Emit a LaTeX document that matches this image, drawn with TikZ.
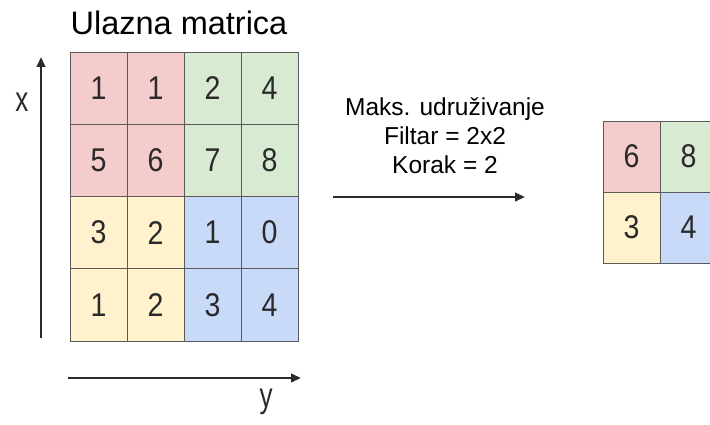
\documentclass[tikz,border=0pt]{standalone}
\usepackage{fontspec}
\setmainfont{Liberation Sans}
\usetikzlibrary{arrows.meta}
\definecolor{cred}{HTML}{F4CCCC}
\definecolor{cgreen}{HTML}{D9EAD3}
\definecolor{cyellow}{HTML}{FFF2CC}
\definecolor{cblue}{HTML}{C9DAF8}
\definecolor{gridc}{HTML}{5A5A5A}
\definecolor{txtc}{HTML}{2A2A2A}
\newcommand{\dg}[1]{\scalebox{0.92}[1.06]{#1}}
\begin{document}
\begin{tikzpicture}[x=1pt,y=-1pt,
  cell/.style={draw=gridc, line width=0.8pt, minimum width=57pt, minimum height=72.25pt, inner sep=0pt, font=\fontsize{31}{31}\selectfont, text=txtc},
  ocell/.style={cell, minimum height=71pt},
  axis/.style={line width=2.3pt, draw=txtc, -{Triangle[length=10pt,width=8.5pt]}},
  lbl/.style={text=txtc, inner sep=0pt}]
\useasboundingbox (0,0) rectangle (710,425);
\clip (0,0) rectangle (710,425);
\fill[white] (0,0) rectangle (710,425);
% input matrix
\node[cell, fill=cred]    (a11) at (98.5,88.1)  {\dg{1}};
\node[cell, fill=cred]    (a12) at (155.5,88.1) {\dg{1}};
\node[cell, fill=cgreen]  (a13) at (212.5,88.1) {\dg{2}};
\node[cell, fill=cgreen]  (a14) at (269.5,88.1) {\dg{4}};
\node[cell, fill=cred]    (a21) at (98.5,160.4)  {\dg{5}};
\node[cell, fill=cred]    (a22) at (155.5,160.4) {\dg{6}};
\node[cell, fill=cgreen]  (a23) at (212.5,160.4) {\dg{7}};
\node[cell, fill=cgreen]  (a24) at (269.5,160.4) {\dg{8}};
\node[cell, fill=cyellow] (a31) at (98.5,232.6)  {\dg{3}};
\node[cell, fill=cyellow] (a32) at (155.5,232.6) {\dg{2}};
\node[cell, fill=cblue]   (a33) at (212.5,232.6) {\dg{1}};
\node[cell, fill=cblue]   (a34) at (269.5,232.6) {\dg{0}};
\node[cell, fill=cyellow] (a41) at (98.5,304.9)  {\dg{1}};
\node[cell, fill=cyellow] (a42) at (155.5,304.9) {\dg{2}};
\node[cell, fill=cblue]   (a43) at (212.5,304.9) {\dg{3}};
\node[cell, fill=cblue]   (a44) at (269.5,304.9) {\dg{4}};
% output matrix
\node[ocell, fill=cred]    (b11) at (631.5,156.5) {\dg{6}};
\node[ocell, fill=cgreen]  (b12) at (688.5,156.5) {\dg{8}};
\node[ocell, fill=cyellow] (b21) at (631.5,227.5) {\dg{3}};
\node[ocell, fill=cblue]   (b22) at (688.5,227.5) {\dg{4}};
% title and labels
\node[lbl, font=\fontsize{32.5}{32.5}\selectfont, text=black] (title) at (179,23) {Ulazna matrica};
\node[lbl, font=\fontsize{26}{26}\selectfont] (xl) at (22,102) {\scalebox{1}[1.35]{x}};
\node[lbl, font=\fontsize{26}{26}\selectfont] (yl) at (266,402) {\scalebox{1}[1.35]{y}};
\node[lbl, align=center, font=\fontsize{24.5}{29}\selectfont, text=black] (op) at (445,136) {Maks. udruživanje\\Filtar = 2x2\\Korak = 2};
% arrows
\coordinate (v0) at (41,338);
\coordinate (v1) at (41,57);
\coordinate (h0) at (68,378);
\coordinate (h1) at (301,378);
\coordinate (m0) at (333,197);
\coordinate (m1) at (525,197);
\draw[axis] (v0) -- (v1);
\draw[axis] (h0) -- (h1);
\draw[axis] (m0) -- (m1);
\end{tikzpicture}
\end{document}
